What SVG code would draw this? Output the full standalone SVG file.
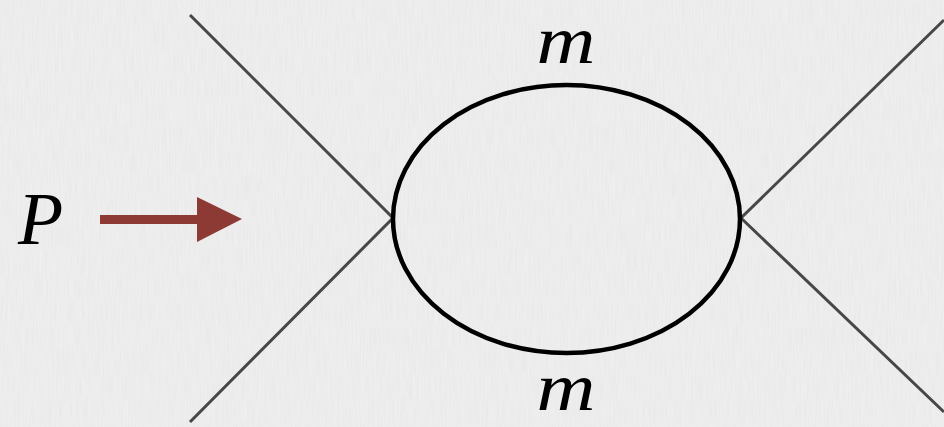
<svg xmlns="http://www.w3.org/2000/svg" width="944" height="427" viewBox="0 0 944 427">
<defs>
<style>
.leg{stroke:#474747;stroke-width:3;fill:none;stroke-linecap:butt}
.loop{stroke:#000;stroke-width:4.5;fill:none}
.lbl{font-family:"Liberation Serif","DejaVu Serif",serif;font-style:italic;fill:#000}
</style>
<filter id="paper" x="0" y="0" width="100%" height="100%">
<feTurbulence type="fractalNoise" baseFrequency="0.6 0.04" numOctaves="2" seed="3"/>
<feColorMatrix type="matrix" values="0 0 0 0 0.3  0 0 0 0 0.3  0 0 0 0 0.3  0 0 0 0.35 0"/>
</filter>
</defs>
<rect width="944" height="427" fill="#f1f1f1"/>
<rect width="944" height="427" filter="url(#paper)" opacity="0.3"/>
<g id="connectors">
<polyline class="leg" points="190,15 393,218 190,422"/>
<polyline class="leg" points="944,20 741,218 944,412"/>
</g>
<g id="loop">
<ellipse class="loop" cx="566.5" cy="219" rx="173.5" ry="134"/>
</g>
<g id="label-top"><text class="lbl" x="566" y="63" font-size="68" text-anchor="middle" transform="translate(566 63) scale(1.2 1) translate(-566 -63)">m</text></g>
<g id="label-bottom"><text class="lbl" x="566" y="410" font-size="68" text-anchor="middle" transform="translate(566 410) scale(1.2 1) translate(-566 -410)">m</text></g>
<g id="momentum">
<text class="lbl" x="18" y="244" font-size="74">P</text>
<polygon points="100,215 197,215 197,197 242,219 197,242 197,224 100,224" fill="#8c3a33"/>
</g>
</svg>
